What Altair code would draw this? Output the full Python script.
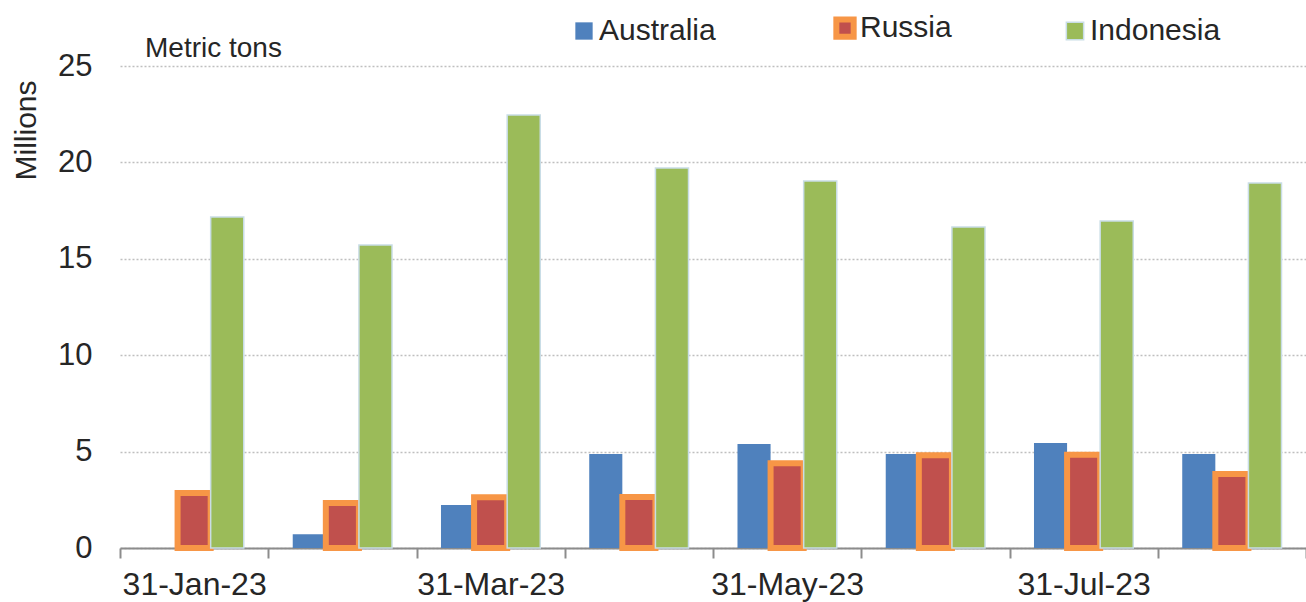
import altair as alt
import pandas as pd

months = ["31-Jan-23", "28-Feb-23", "31-Mar-23", "30-Apr-23",
          "31-May-23", "30-Jun-23", "31-Jul-23", "31-Aug-23"]
australia = [0.0, 0.71, 2.23, 4.88, 5.39, 4.88, 5.45, 4.88]
russia = [2.85, 2.33, 2.63, 2.65, 4.40, 4.81, 4.84, 3.84]
indonesia = [17.17, 15.72, 22.46, 19.71, 19.04, 16.65, 16.96, 18.93]
series = ["Australia", "Russia", "Indonesia"]
shown_labels = ["31-Jan-23", "31-Mar-23", "31-May-23", "31-Jul-23"]
unit_note = ["Metric tons"]

rows = []
for i, m in enumerate(months):
    for s, vals in zip(series, [australia, russia, indonesia]):
        rows.append({"date": m, "country": s, "value": vals[i]})
df = pd.DataFrame(rows)

fills = ["#4F81BD", "#C0504D", "#9BBB59"]
strokes = ["#4F81BD", "#F79646", "#C9DDE6"]
stroke_widths = [0, 6, 1.5]
FONT = "Liberation Sans"
TXT = "#262626"

label_expr = "indexof(" + str(shown_labels).replace("'", "\"") + ", datum.value) >= 0 ? datum.label : ''"

bars = alt.Chart(df).mark_bar().encode(
    x=alt.X("date:N", sort=months,
            scale=alt.Scale(paddingInner=0, paddingOuter=0),
            axis=alt.Axis(title=None, labelAngle=0, labelExpr=label_expr,
                          tickBand="extent", ticks=True, tickSize=10,
                          tickColor="#8C8C8C", tickWidth=2,
                          domainColor="#8C8C8C", domainWidth=2,
                          labelFontSize=32, labelFont=FONT, labelColor=TXT,
                          labelPadding=11, grid=False)),
    xOffset=alt.XOffset("country:N", sort=series,
                        scale=alt.Scale(paddingInner=0, paddingOuter=0.74)),
    y=alt.Y("value:Q",
            scale=alt.Scale(domain=[0, 25]),
            axis=alt.Axis(title="Millions", values=[0, 5, 10, 15, 20, 25],
                          domain=False, ticks=False, grid=True,
                          gridColor="#BFBFBF", gridDash=[2, 2], gridWidth=1.5,
                          labelFontSize=31, labelFont=FONT, labelColor=TXT,
                          labelPadding=28,
                          titleFontSize=30, titleFont=FONT, titleColor=TXT,
                          titleFontWeight="normal", titleAngle=-90,
                          titleX=-94, titleY=64, titleAlign="center",
                          titleBaseline="middle")),
    color=alt.Color("country:N", sort=series,
                    scale=alt.Scale(domain=series, range=fills),
                    legend=alt.Legend(title=None, orient="none", direction="horizontal",
                                      legendX=449, legendY=-53, columns=3,
                                      columnPadding=108, labelOffset=0,
                                      symbolType="square", symbolSize=300,
                                      symbolStrokeWidth=3,
                                      labelFontSize=30, labelFont=FONT,
                                      labelColor=TXT, labelBaseline="middle")),
    stroke=alt.Stroke("country:N", sort=series,
                      scale=alt.Scale(domain=series, range=strokes),
                      legend=None),
    strokeWidth=alt.StrokeWidth("country:N", sort=series,
                                scale=alt.Scale(type="ordinal", domain=series,
                                                range=stroke_widths),
                                legend=None),
)

note = alt.Chart(pd.DataFrame({"t": unit_note})).mark_text(
    align="left", baseline="alphabetic", fontSize=28, font=FONT, color=TXT
).encode(x=alt.value(25), y=alt.value(-9), text="t:N")

chart = alt.layer(bars, note).properties(
    width=1186, height=482,
    background="white",
    autosize=alt.AutoSizeParams(type="none"),
    padding={"left": 120, "top": 66, "right": 0, "bottom": 54},
).configure_view(strokeWidth=0, stroke="transparent").configure_axisY(
    domain=False
).configure_axisX(grid=False)

chart.save("out.html", embed_options={"renderer": "svg", "actions": False})
